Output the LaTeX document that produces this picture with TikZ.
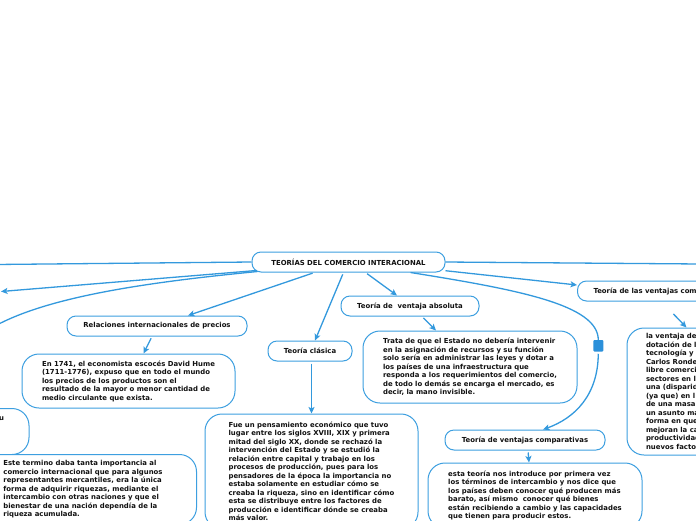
\documentclass[tikz,border=0pt]{standalone}
\usepackage{fontspec}
\setsansfont{DejaVu Sans}
\usetikzlibrary{arrows.meta}
\definecolor{linkc}{HTML}{3399DD}
\definecolor{boxline}{HTML}{3D9FE0}
\definecolor{ink}{HTML}{111111}
\definecolor{foldc}{HTML}{2B90DA}

\begin{document}
\begin{tikzpicture}[
  x=1pt,y=-1pt,
  font=\sffamily\bfseries\fontsize{6.9}{8.5}\selectfont,
  >={Stealth[length=6.5pt,width=6pt,inset=1.5pt]},
  topic/.style={draw=boxline,line width=1pt,rounded corners=9pt,fill=white,text=ink,minimum height=20pt,inner sep=0pt},
  notebox/.style={draw=boxline,line width=1pt,rounded corners=17pt,fill=white,text=ink,align=left,inner sep=0pt},
  link/.style={->,line width=1.3pt,draw=linkc,shorten <=2pt},
  spoke/.style={line width=1.3pt,draw=linkc},
]
\useasboundingbox (0,0) rectangle (696,520);
\fill[white] (0,0) rectangle (696,520);
\clip (0,0) rectangle (696,520);

% ===================== CENTRAL TOPIC =====================
\node[topic,minimum width=193pt] (root) at (348.5,262) {TEORÍAS DEL COMERCIO INTERACIONAL};

% ===================== LEFT BRANCHES =====================
\node[topic,minimum width=180pt] (rel) at (157,326) {Relaciones internacionales de precios};
\node[notebox,minimum width=213pt,minimum height=54pt] (hume) at (128.5,381)
  {En 1741, el economista escocés David Hume\\(1711-1776), expuso que en todo el mundo\\los precios de los productos son el\\resultado de la mayor o menor cantidad de\\medio circulante que exista.};
\node[notebox,anchor=north east,inner xsep=25pt,minimum height=46pt] (su) at (29.5,408)
  {u\\\mbox{}\\\mbox{}\\\mbox{}};
\node[notebox,anchor=north east,inner xsep=34pt,minimum height=70pt] (merc) at (197,454)
  {Este termino daba tanta importancia al\\comercio internacional que para algunos\\representantes mercantiles, era la única\\forma de adquirir riquezas, mediante el\\intercambio con otras naciones y que el\\bienestar de una nación dependía de la\\riqueza acumulada.};

% ===================== MIDDLE BRANCHES =====================
\node[topic,minimum width=84pt] (clas) at (310,351) {Teoría clásica};
\node[notebox,minimum width=213pt,minimum height=115pt] (clastext) at (311.5,471.5)
  {Fue un pensamiento económico que tuvo\\lugar entre los siglos XVIII, XIX y primera\\mitad del siglo XX, donde se rechazó la\\intervención del Estado y se estudió la\\relación entre capital y trabajo en los\\procesos de producción, pues para los\\pensadores de la época la importancia no\\estaba solamente en estudiar cómo se\\creaba la riqueza, sino en identificar cómo\\esta se distribuye entre los factores de\\producción e identificar dónde se creaba\\más valor.};
\node[topic,minimum width=138pt] (abs) at (410,306) {Teoría de\ \ ventaja absoluta};
\node[notebox,minimum width=214pt,minimum height=72pt] (abstext) at (470,367)
  {Trata de que el Estado no debería intervenir\\en la asignación de recursos y su función\\solo sería en administrar las leyes y dotar a\\los países de una infraestructura que\\responda a los requerimientos del comercio,\\de todo lo demás se encarga el mercado, es\\decir, la mano invisible.};

% ===================== RIGHT BRANCHES =====================
\node[topic,anchor=west,inner xsep=16pt] (vcom) at (577,291) {Teoría de las ventajas com};
\node[notebox,anchor=north west,inner xsep=19pt,minimum height=127pt] (vcomtext) at (626.5,327.5)
  {la ventaja de\\dotación de l\\tecnología y\\Carlos Ronde\\libre comerci\\sectores en l\\una (disparid\\(ya que) en l\\de una masa\\un asunto ma\\forma en que\\mejoran la ca\\productividad\\nuevos facto};
\node[topic,minimum width=160pt] (cmp) at (525,440) {Teoría de ventajas comparativas};
\node[notebox,minimum width=214pt,minimum height=65pt] (cmptext) at (535,495.5)
  {esta teoría nos introduce por primera vez\\los términos de intercambio y nos dice que\\los países deben conocer qué producen más\\barato, así mismo\ \ conocer qué bienes\\están recibiendo a cambio y las capacidades\\que tienen para producir estos.};
\node[fill=foldc,minimum width=10pt,minimum height=11.5pt,inner sep=0pt,rounded corners=1pt] (fold) at (598.3,345.8) {};

% ===================== CONNECTORS =====================
\coordinate (offA) at (-5,264.5);
\coordinate (offB) at (1,291.5);
\coordinate (offC) at (-5,326);
\coordinate (offD) at (701,264);
\draw[spoke] (root.west) -- (offA);
\draw[link,shorten <=0pt] ([xshift=5pt,yshift=2pt]root.south west) -- (offB);
\draw[spoke] ([xshift=6pt,yshift=1pt]root.south west) .. controls (150,282) and (50,296) .. (offC);
\draw[spoke] (root.east) -- (offD);
\draw[link] ([xshift=-34pt]root.south) -- ([xshift=31pt]rel.north);
\draw[link] ([xshift=-5pt]root.south) -- ([xshift=5pt]clas.north);
\draw[link] ([xshift=17pt]root.south) -- ([xshift=-13pt]abs.north);
\draw[link] ([xshift=-2pt,yshift=2pt]root.south east) -- ([yshift=6pt]vcom.west);
\draw[spoke] ([xshift=62pt]root.south) .. controls (520,290) and (598,305) .. (fold.north);
\draw[link] (fold.south) .. controls (598,395) and (575,418) .. ([xshift=18pt]cmp.north);
\draw[link] ([xshift=-5pt]rel.south) -- ([xshift=15pt]hume.north);
\draw[link] ([xshift=1.5pt]clas.south) -- (clastext.north);
\draw[link] ([xshift=12pt]abs.south) -- ([xshift=-34pt]abstext.north);
\draw[link] ([xshift=3pt]cmp.south) -- ([xshift=-6pt]cmptext.north);
\draw[link] ([xshift=95pt,yshift=-11pt]vcom.south west) -- ([xshift=60pt]vcomtext.north west);

\end{tikzpicture}
\end{document}
